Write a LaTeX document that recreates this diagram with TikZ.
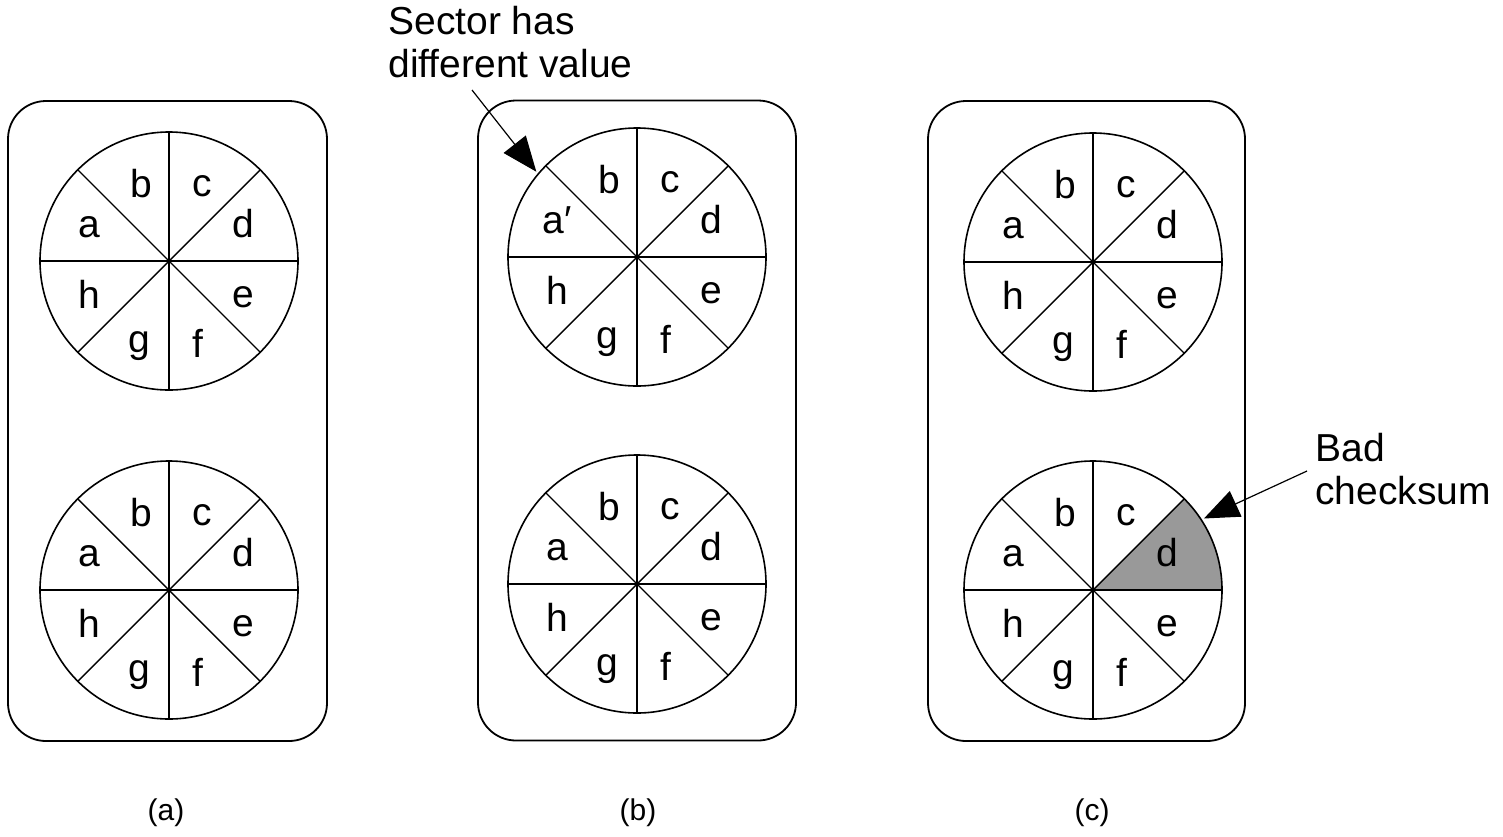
\documentclass[tikz,border=0pt]{standalone}
\usepackage{fontspec}
\setmainfont{Liberation Sans}
\usetikzlibrary{arrows.meta}

% coordinates are given in pixel-like units, y growing downwards
\tikzset{
  casebox/.style={draw, line width=0.9pt, rounded corners=19pt, inner sep=0pt,
    minimum width=#1, minimum height=320pt},
  disk/.style={draw, circle, line width=0.8pt, minimum size=129pt, inner sep=0pt, outer sep=0pt},
  spoke/.style={line width=0.7pt},
  sec/.style={anchor=base, inner sep=0pt, font=\fontsize{19.5pt}{21.5pt}\selectfont},
  note/.style={inner sep=0pt, align=left, font=\fontsize{19.5pt}{21.5pt}\selectfont},
  caption/.style={anchor=base, inner sep=0pt, font=\fontsize{15pt}{17pt}\selectfont},
  callout/.style={line width=0.6pt, -{Triangle[length=17.5pt,width=14pt]}, shorten >=1.5pt},
  badfill/.style={fill={rgb,255:red,153;green,153;blue,153}},
}

% one platter: name, centre x, centre y, text of the first sector
\newcommand\platter[4]{%
  \node[disk] (#1) at (#2,#3) {};
  \foreach \ang in {0,45,...,315} \draw[spoke] (#1.center) -- (#1.\ang);
  \begin{scope}[shift={(#2,#3)}]
    \node[sec] (#1-a) at (-80,-24) {#4};
    \node[sec] (#1-b) at (-28,-64) {b};
    \node[sec] (#1-c) at (33,-65) {c};
    \node[sec] (#1-d) at (74,-24) {d};
    \node[sec] (#1-h) at (-80,47) {h};
    \node[sec] (#1-e) at (74,46) {e};
    \node[sec] (#1-g) at (-30,91) {g};
    \node[sec] (#1-f) at (29,96) {f};
  \end{scope}%
}

\begin{document}
\begin{tikzpicture}[x=0.5pt, y=-0.5pt]
  \fill[white] (0,0) rectangle (1503,836);
  \useasboundingbox (0,0) rectangle (1503,836);

  % enclosures
  \node[casebox=159.5pt] (caseA) at (167.5,421) {};
  \node[casebox=159pt]   (caseB) at (637,420.5) {};
  \node[casebox=158.5pt] (caseC) at (1086.5,421) {};

  % shaded sector with the bad checksum
  \begin{scope}
    \clip (1093,590) circle[radius=64.5pt];
    \fill[badfill] (1093,590) -- +(0:80pt) -- +(45:80pt) -- cycle;
  \end{scope}

  % platters
  \platter{a1}{169}{261}{a}
  \platter{a2}{169}{590}{a}
  \platter{b1}{637}{257}{a′}
  \platter{b2}{637}{584}{a}
  \platter{c1}{1093}{262}{a}
  \platter{c2}{1093}{590}{a}

  % annotations
  \node[note, anchor=north west] (diffnote) at (388,6) {Sector has\\different value};
  \coordinate (diffstart) at (472,90);
  \draw[callout] (diffstart) -- (b1.140);

  \node[note, anchor=north west] (badnote) at (1315,433) {Bad\\checksum};
  \coordinate (badstart) at (1307,471);
  \draw[callout] (badstart) -- (c2.33);

  % captions
  \node[caption] (capA) at (166,820) {(a)};
  \node[caption] (capB) at (638,820) {(b)};
  \node[caption] (capC) at (1092,820) {(c)};
\end{tikzpicture}
\end{document}
